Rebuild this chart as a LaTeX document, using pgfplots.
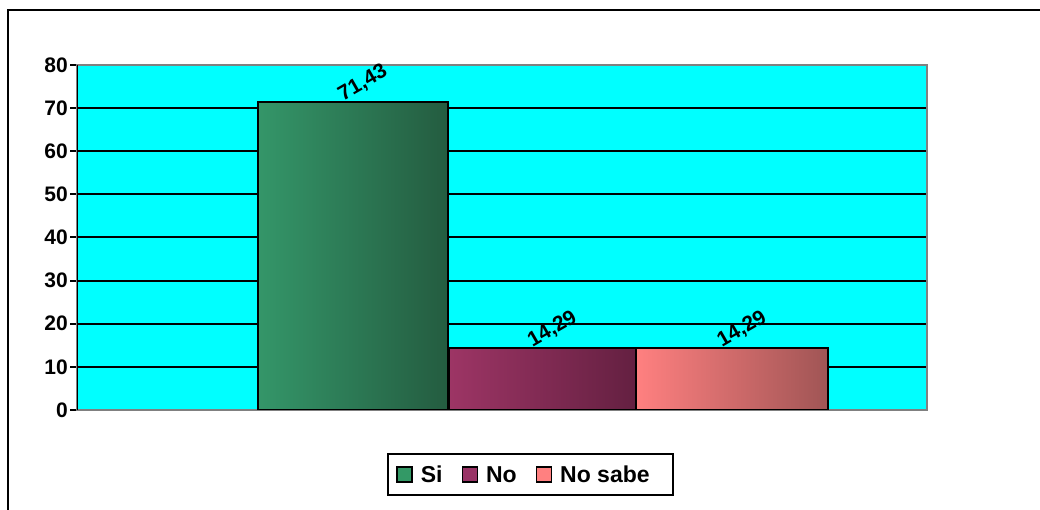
\documentclass[border=0pt]{standalone}
\usepackage{pgfplots}
\pgfplotsset{compat=1.18}
\usepackage{fontspec}
\setmainfont{Liberation Sans}
\definecolor{bgcyan}{RGB}{0,255,255}
\definecolor{siL}{RGB}{52,150,105}
\definecolor{siR}{RGB}{36,92,64}
\definecolor{noL}{RGB}{157,53,101}
\definecolor{noR}{RGB}{100,32,65}
\definecolor{nsL}{RGB}{255,128,128}
\definecolor{nsR}{RGB}{160,85,85}
\definecolor{siC}{RGB}{51,153,102}
\definecolor{noC}{RGB}{153,51,102}
\definecolor{nsC}{RGB}{255,128,128}
\definecolor{axgray}{RGB}{128,128,128}
\newcommand{\bigbf}{\bfseries\fontsize{21}{25}\selectfont}
\newcommand{\legbf}{\bfseries\fontsize{23}{26}\selectfont}
\begin{document}
\begin{tikzpicture}
\useasboundingbox (0,0) rectangle (1040pt,510pt);
\draw[line width=2.5pt] (8pt,-2pt) -- (8pt,500pt) -- (1042pt,500pt);
\begin{axis}[
  at={(77pt,100pt)}, anchor=south west,
  scale only axis, width=850pt, height=345pt,
  xmin=0, xmax=850, ymin=0, ymax=80,
  ytick={0,10,...,80}, xtick=\empty,
  ytick pos=left, tick align=outside, major tick length=7pt,
  ytick style={black, line width=2pt},
  ymajorgrids, grid style={black, line width=2pt},
  axis line style={draw=axgray, line width=2pt},
  axis background/.style={fill=bgcyan},
  yticklabel style={font=\bigbf, inner xsep=2pt},
  /pgf/number format/assume math mode=true,
  legend style={at={(0.5335,-0.187)}, anchor=center, legend columns=3,
    draw=black, line width=2pt, font=\legbf, inner xsep=8pt, inner ysep=12pt,
    nodes={inner sep=0pt, text height=16.5pt, text depth=0pt},
    /tikz/every odd column/.append style={column sep=8pt},
    /tikz/every even column/.append style={column sep=19pt}},
  legend cell align=left,
]
\addplot[ybar, bar width=190, bar shift=0pt, draw=black, line width=2pt,
  left color=siL, right color=siR, forget plot] coordinates {(276,71.43)};
\addplot[ybar, bar width=187, bar shift=0pt, draw=black, line width=2pt,
  left color=noL, right color=noR, forget plot] coordinates {(465.5,14.29)};
\addplot[ybar, bar width=192, bar shift=0pt, draw=black, line width=2pt,
  left color=nsL, right color=nsR, forget plot] coordinates {(655,14.29)};
\addplot[draw=none, mark=none, forget plot,
  nodes near coords={\pgfmathprintnumber[use comma,fixed,precision=2]{\pgfplotspointmeta}},
  every node near coord/.append style={black, font=\bigbf, anchor=center,
    xshift=10pt, yshift=19pt, rotate=30}]
  coordinates {(276,71.43) (465.5,14.29) (655,14.29)};
\draw[black, line width=2pt] (rel axis cs:0,0) -- (rel axis cs:0,1);
\addlegendimage{legend image code/.code={\draw[fill=siC, draw=black, line width=1.5pt] (0pt,-7.5pt) rectangle (15pt,7.5pt);}}
\addlegendentry{Si}
\addlegendimage{legend image code/.code={\draw[fill=noC, draw=black, line width=1.5pt] (0pt,-7.5pt) rectangle (15pt,7.5pt);}}
\addlegendentry{No}
\addlegendimage{legend image code/.code={\draw[fill=nsC, draw=black, line width=1.5pt] (0pt,-7.5pt) rectangle (15pt,7.5pt);}}
\addlegendentry{No sabe\rule{15pt}{0pt}}
\end{axis}
\end{tikzpicture}
\end{document}
